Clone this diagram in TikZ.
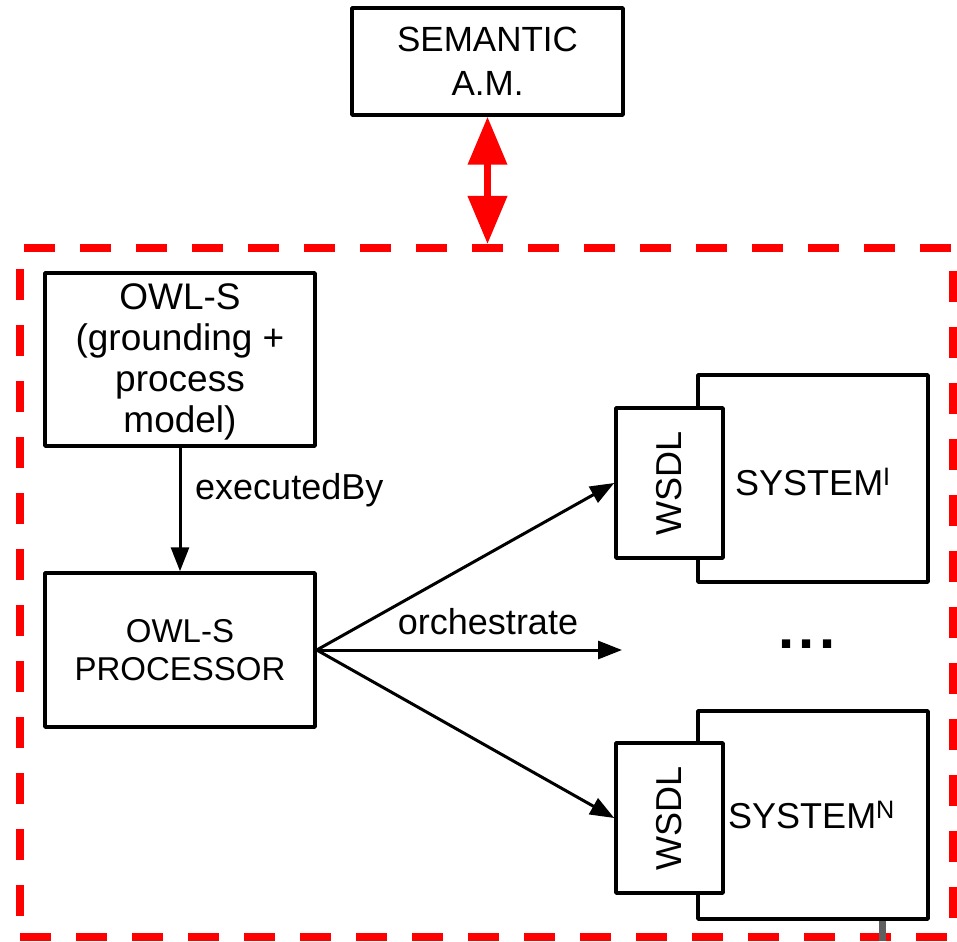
\documentclass[tikz,border=0pt]{standalone}
\usepackage{fontspec}
\setmainfont{Liberation Sans}
\usetikzlibrary{arrows.meta}
\definecolor{framered}{RGB}{255,0,0}
\definecolor{stubgray}{RGB}{95,95,95}
\begin{document}
\begin{tikzpicture}[x=1pt,y=-1pt,
  every node/.style={font=\fontsize{36}{43}\selectfont},
  box/.style={draw, line width=3.5pt, line join=round, fill=white,
              rectangle, inner sep=0pt, align=center},
  txt/.style={inner sep=0pt, align=center},
  flow/.style={line width=3pt, -{Triangle[length=24pt,width=18pt]}},
  link/.style={draw=framered, fill=framered, line width=7pt,
               {Triangle[length=48pt,width=38pt]}-{Triangle[length=48pt,width=38pt]}},
  frame/.style={draw=framered, line width=8pt, dash pattern=on 31pt off 25pt,
                rectangle, inner sep=0pt}]
\useasboundingbox (0,0) rectangle (957,941);

% enclosing dashed frame
\node[frame, minimum width=933pt, minimum height=689pt] (frame) at (486.5,592.5) {};

% semantic access module
\node[box, minimum width=271pt, minimum height=107pt,
      font=\fontsize{35}{44}\selectfont] (sem) at (487.5,61.5)
  {SEMANTIC\\A.M.};
\draw[link] (sem.south) -- (sem.south |- frame.north);

% OWL-S description and processor
\node[box, minimum width=270pt, minimum height=173pt] (owls) at (180,359.5) {};
\node[txt, font=\fontsize{37}{41}\selectfont] (owlstxt) at (180,362)
  {OWL-S\\(grounding +\\process\\model)};
\node[box, minimum width=270pt, minimum height=154pt,
      font=\fontsize{33}{38}\selectfont] (proc) at (180,650)
  {OWL-S\\PROCESSOR};
\draw[flow] (owls.south) -- (proc.north);
\node[txt, anchor=west] (exec) at (195,490) {executedBy};

% first system with its WSDL interface
\node[box, minimum width=230pt, minimum height=207pt] (sys1) at (813,478.5) {};
\node[box, minimum width=107pt, minimum height=150pt] (wsdl1) at (669.5,483)
  {\rotatebox{90}{WSDL}};
\node[txt, anchor=base west] (sys1txt) at (735,495) {SYSTEM\textsuperscript{I}};

% last system with its WSDL interface
\node[box, minimum width=230pt, minimum height=208pt] (sysn) at (813,815) {};
\node[box, minimum width=107pt, minimum height=150pt] (wsdln) at (669.5,818)
  {\rotatebox{90}{WSDL}};
\node[txt, anchor=base west] (sysntxt) at (728,828) {SYSTEM\textsuperscript{N}};

% orchestration arrows
\coordinate (mid) at (622,650);
\draw[flow] (proc.east) -- (wsdl1.west);
\draw[flow] (proc.east) -- (mid);
\draw[flow] (proc.east) -- (wsdln.west);
\node[txt] (orch) at (488,622) {orchestrate};
\node[txt, anchor=base, font=\fontsize{58}{60}\selectfont\bfseries] (dots)
  at (807,648) {.\kern4pt.\kern4pt.};

% short stub below the last system
\coordinate (stub) at (882,941);
\draw[stubgray, line width=7pt] (sysn.south -| stub) -- (stub);
\end{tikzpicture}
\end{document}
